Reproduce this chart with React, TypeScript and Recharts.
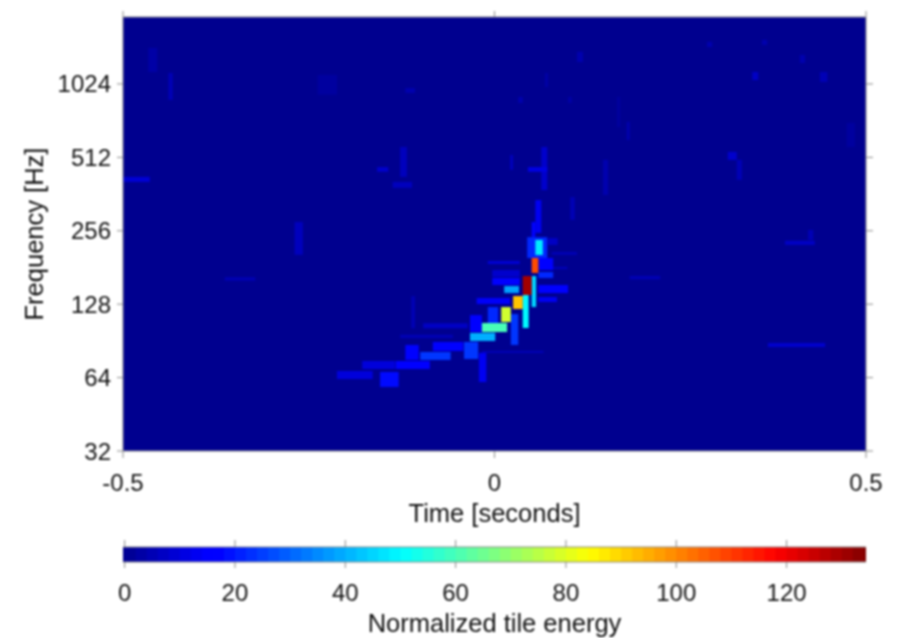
import React from 'react';
import { ComposedChart, XAxis, YAxis, ReferenceArea } from 'recharts';

// tile = [start time s, end time s, low Hz, high Hz, normalized energy]
type Tile = [number, number, number, number, number];

const timeTicks = [-0.5, 0, 0.5];
const freqTicks = [32, 64, 128, 256, 512, 1024];
const energyTicks = [0, 20, 40, 60, 80, 100, 120];
const maxEnergy = 134.7;
const freqRange = [32, 1927];
const colorbarRange = [-0.3, 134.4];
// one colorbar cell starts at each of these levels, two energy units wide
const colorbarLevels = [
  0, 2, 4, 6, 8, 10, 12, 14, 16, 18, 20, 22, 24, 26, 28, 30, 32, 34, 36, 38, 40, 42, 44, 46, 48, 50, 52, 54, 56, 58, 60, 62, 64, 66,
  68, 70, 72, 74, 76, 78, 80, 82, 84, 86, 88, 90, 92, 94, 96, 98, 100, 102, 104, 106, 108, 110, 112, 114, 116, 118, 120, 122, 124,
  126, 128, 130, 132, 134,
];

// faint background tiles, scattered over the plane
const faintTiles: Tile[] = [
  [-0.5, -0.464, 406, 426, 9],
  [-0.363, -0.322, 160, 165, 5],
  [-0.269, -0.258, 204, 278, 6],
  [-0.158, -0.143, 447, 467, 8],
  [-0.127, -0.118, 426, 565, 6],
  [-0.137, -0.111, 384, 406, 6],
  [-0.439, -0.433, 881, 1136, 5],
  [-0.466, -0.454, 1146, 1439, 3],
  [-0.12, -0.107, 941, 985, 4],
  [-0.238, -0.212, 925, 1115, 2],
  [0.314, 0.326, 500, 539, 8],
  [0.326, 0.333, 414, 500, 5],
  [0.347, 0.355, 1064, 1146, 7],
  [0.411, 0.418, 1248, 1347, 4],
  [0.438, 0.448, 1044, 1146, 5],
  [0.36, 0.367, 1480, 1553, 4],
  [0.286, 0.293, 1452, 1524, 4],
  [0.032, 0.038, 856, 906, 4],
  [0.068, 0.072, 995, 1136, 3],
  [0.111, 0.119, 1260, 1387, 4],
  [0.099, 0.104, 856, 906, 3],
  [0.178, 0.182, 603, 716, 4],
  [0.165, 0.169, 682, 906, 2],
  [0.474, 0.485, 565, 709, 2],
  [0.063, 0.071, 376, 565, 8],
  [0.045, 0.071, 447, 467, 11],
  [0.021, 0.025, 455, 524, 6],
  [0.146, 0.153, 359, 500, 4],
  [0.102, 0.108, 284, 352, 5],
  [0.422, 0.429, 235, 258, 5],
  [0.391, 0.431, 224, 233, 7],
  [0.368, 0.445, 85.4, 88.8, 8],
  [0.182, 0.223, 162, 167, 5],
  [-0.096, -0.036, 102, 107, 7],
  [-0.127, -0.056, 93, 96, 5],
  [-0.112, -0.107, 102, 138, 5],
  [-0.017, 0.066, 81, 82.3, 6],
  [0.077, 0.111, 204, 209.5, 5],
  [0.075, 0.098, 178.5, 182, 6],
  [0.072, 0.085, 224, 239, 7],
  [0.055, 0.063, 251, 342, 13],
  [0.05, 0.055, 241, 278, 17],
];

// blue tiles following the chirp and around it
const shoulderTiles: Tile[] = [
  [-0.212, -0.164, 63.2, 68.1, 10],
  [-0.154, -0.129, 58.6, 67.5, 18],
  [-0.178, -0.134, 69.4, 74.9, 10],
  [-0.133, -0.087, 69.4, 74.9, 16],
  [-0.12, -0.102, 75.6, 87.1, 17],
  [-0.1, -0.059, 75.6, 81.5, 24],
  [-0.083, -0.042, 82.3, 89.6, 17],
  [-0.021, -0.011, 61.4, 80.8, 13],
  [-0.041, -0.022, 76.3, 89.6, 24],
  [-0.033, -0.017, 98.4, 115.5, 15],
  [-0.009, 0.005, 107.2, 124.6, 22],
  [0.022, 0.032, 87.1, 116.6, 24],
  [-0.024, 0.021, 128.2, 135.8, 14],
  [-0.003, 0.034, 165.4, 176.8, 8],
  [-0.003, 0.034, 153.4, 163.9, 15],
  [-0.009, 0.034, 187, 192.6, 9],
  [0.059, 0.079, 176.8, 198, 16],
  [0.059, 0.079, 163.9, 173.5, 22],
  [0.059, 0.099, 142.2, 153.4, 15],
  [0.059, 0.084, 130.7, 137, 13],
  [0.044, 0.071, 198, 241, 22],
];

// the bright chirp itself
const chirpTiles: Tile[] = [
  [0.055, 0.065, 203.7, 234.8, 48],
  [0.05, 0.059, 171.8, 198, 108],
  [0.05, 0.056, 124.6, 167, 45],
  [0.038, 0.05, 139.6, 167, 130],
  [0.013, 0.033, 142.2, 152, 38],
  [0.038, 0.046, 102.2, 139.6, 50],
  [0.025, 0.038, 122.3, 138.3, 92],
  [0.009, 0.022, 108.2, 124.6, 78],
  [-0.017, 0.017, 98.4, 107.2, 60],
  [-0.033, 0.001, 90.4, 97.6, 40],
];

const allTiles = [...faintTiles, ...shoulderTiles, ...chirpTiles];

// matlab jet colormap
function jet(energy: number) {
  const v = Math.min(1, Math.max(0, energy / maxEnergy));
  const c = (x: number) => Math.round(255 * Math.min(1, Math.max(0, x)));
  const r = c(Math.min(4 * v - 1.5, 4.5 - 4 * v));
  const g = c(Math.min(4 * v - 0.5, 3.5 - 4 * v));
  const b = c(Math.min(4 * v + 0.5625, 2.5 - 4 * v));
  return `rgb(${r},${g},${b})`;
}

const timeRows = timeTicks.map((t) => ({ t }));
const energyRows = energyTicks.map((e) => ({ e }));
const noLabel = () => '';

const axisColor = '#8a8a8a';
const tickStyle = { fontFamily: '"Liberation Sans", Arial, sans-serif', fontSize: 24, fill: '#111' };
const titleStyle = { ...tickStyle, fontSize: 25.5 };

export default function App() {
  return (
    <div style={{ position: 'absolute', left: 0, top: 0, width: 899, height: 638, overflow: 'hidden', background: '#fff', filter: 'blur(0.9px)' }}>
      {/* spectrogram */}
      <div style={{ position: 'absolute', left: 0, top: 0 }}>
        <ComposedChart width={899} height={530} data={timeRows} margin={{ top: 0, right: 0, bottom: 0, left: 0 }}>
          <XAxis
            type="number"
            dataKey="t"
            domain={[-0.5, 0.5]}
            ticks={timeTicks}
            interval={0}
            height={79}
            tickSize={7}
            tickMargin={16}
            stroke={axisColor}
            tick={tickStyle}
            allowDataOverflow
            label={{ value: 'Time [seconds]', position: 'insideTop', dy: 48, style: titleStyle }}
          />
          <XAxis type="number" dataKey="t" xAxisId="top" orientation="top" domain={[-0.5, 0.5]} ticks={timeTicks} interval={0} height={17} tickSize={6} tickFormatter={noLabel} stroke={axisColor} allowDataOverflow />
          <YAxis
            type="number"
            scale="log"
            domain={freqRange}
            ticks={freqTicks}
            interval={0}
            width={123}
            tickSize={6}
            tickMargin={6}
            stroke={axisColor}
            tick={tickStyle}
            allowDataOverflow
            label={{ value: 'Frequency [Hz]', angle: -90, position: 'insideLeft', dx: 29, textAnchor: 'middle', style: titleStyle }}
          />
          <YAxis type="number" yAxisId="right" orientation="right" scale="log" domain={freqRange} ticks={freqTicks} interval={0} width={33} tickSize={7} tickFormatter={noLabel} stroke={axisColor} allowDataOverflow />
          <ReferenceArea x1={-0.5} x2={0.5} y1={32} y2={freqRange[1]} fill={jet(0)} fillOpacity={1} stroke="none" />
          {allTiles.map(([t0, t1, low, high, energy], i) => (
            <ReferenceArea key={i} x1={t0} x2={t1} y1={low} y2={high} fill={jet(energy)} fillOpacity={1} stroke="none" />
          ))}
        </ComposedChart>
      </div>

      {/* colorbar */}
      <div style={{ position: 'absolute', left: 0, top: 530 }}>
        <ComposedChart width={899} height={108} data={energyRows} margin={{ top: 0, right: 33, bottom: 0, left: 123 }}>
          <XAxis
            type="number"
            dataKey="e"
            domain={colorbarRange}
            ticks={energyTicks}
            interval={0}
            height={76}
            tickSize={6}
            tickMargin={16}
            stroke={axisColor}
            tick={tickStyle}
            allowDataOverflow
            label={{ value: 'Normalized tile energy', position: 'insideTop', dy: 47, style: titleStyle }}
          />
          <XAxis type="number" dataKey="e" xAxisId="top" orientation="top" domain={colorbarRange} ticks={energyTicks} interval={0} height={17} tickSize={7} tickFormatter={noLabel} stroke={axisColor} allowDataOverflow />
          <YAxis hide domain={[0, 1]} type="number" allowDataOverflow />
          <ReferenceArea x1={colorbarRange[0]} x2={colorbarRange[1]} y1={0} y2={1} fill={jet(0)} fillOpacity={1} stroke="none" />
          {colorbarLevels.map((level) => (
            <ReferenceArea key={level} x1={level} x2={Math.min(level + 2.3, colorbarRange[1])} y1={0} y2={1} fill={jet(level + 1)} fillOpacity={1} stroke="none" />
          ))}
        </ComposedChart>
      </div>
    </div>
  );
}
